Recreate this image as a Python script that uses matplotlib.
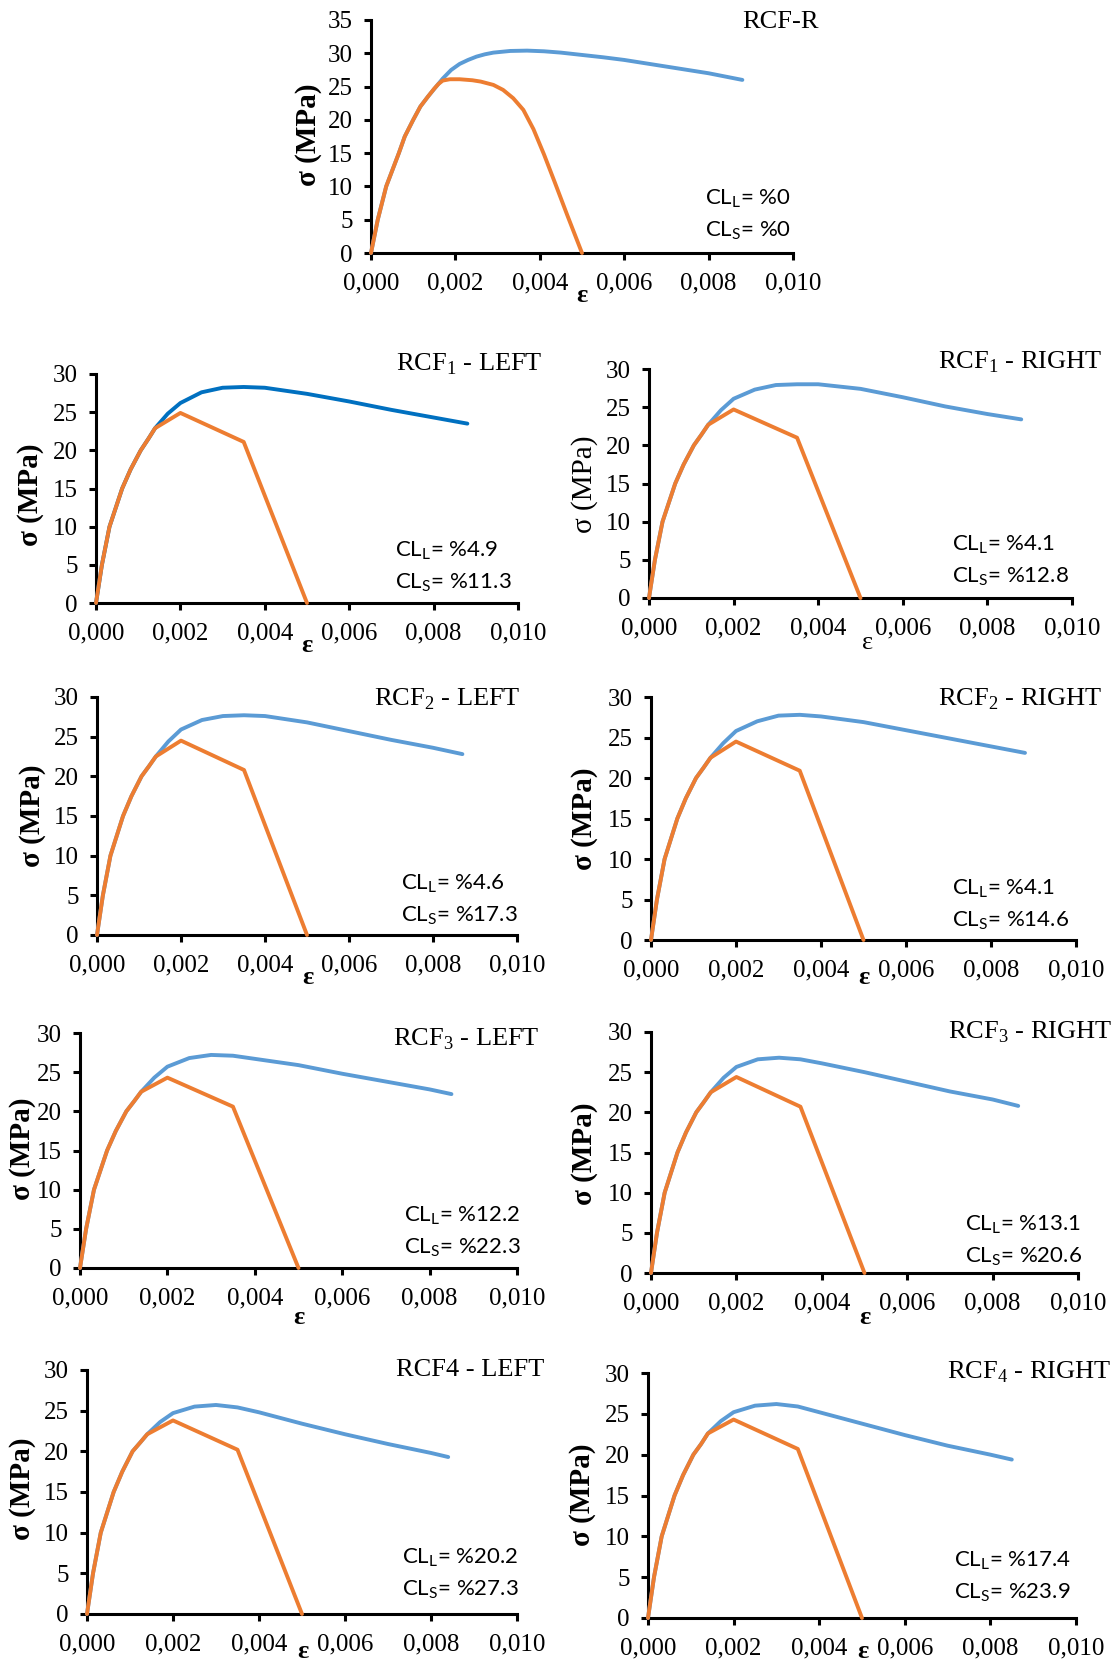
# -------------------- IMPORT LIBRARIES --------------------
import matplotlib
matplotlib.use("Agg")
import matplotlib.pyplot as plt
from matplotlib.ticker import FuncFormatter, MultipleLocator

# -------------------- DATA --------------------
# reference specimen RCF-R
eps_r_blue = [0, 0.00016, 0.00036, 0.00066, 0.0008, 0.001, 0.00117, 0.00135, 0.0017,
              0.0019, 0.0021, 0.0023, 0.0025, 0.0027, 0.0029, 0.0033, 0.0037, 0.0041,
              0.0045, 0.005, 0.0055, 0.006, 0.0065, 0.007, 0.0075, 0.008, 0.0088]
sig_r_blue = [0, 5, 10, 15, 17.5, 20, 22, 23.5, 26.2, 27.5, 28.4, 29.0, 29.5, 29.85, 30.1,
              30.35, 30.4, 30.3, 30.1, 29.75, 29.4, 29.0, 28.5, 28.0, 27.5, 27.0, 26.0]
eps_r_orange = [0, 0.00016, 0.00036, 0.00066, 0.0008, 0.001, 0.00117, 0.00135, 0.0015,
                0.0016, 0.0017, 0.00187, 0.0021, 0.0024, 0.0026, 0.0029, 0.00313, 0.00337,
                0.00361, 0.00385, 0.0041, 0.00435, 0.00465, 0.005]
sig_r_orange = [0, 5, 10, 15, 17.5, 20, 22, 23.5, 24.7, 25.4, 25.9, 26.1, 26.1, 25.95,
                25.75, 25.25, 24.5, 23.25, 21.5, 18.6, 14.8, 10.7, 5.7, 0]

# strain points shared by the damaged specimens
eps_blue_base = [0, 0.00014, 0.00032, 0.00062, 0.00082, 0.00106, 0.00124, 0.0014, 0.0017,
                 0.002, 0.0025, 0.003, 0.0035, 0.004, 0.005, 0.006, 0.007, 0.008]
eps_orange = [0, 0.00014, 0.00032, 0.00062, 0.00082, 0.00106, 0.00124, 0.0014, 0.002,
              0.0035, 0.005]

eps_end = {"1L": 0.0088, "1R": 0.0088, "2L": 0.0087, "2R": 0.0088,
           "3L": 0.0085, "3R": 0.0086, "4L": 0.0084, "4R": 0.0085}

sig_blue_1L = [0, 5, 10, 15, 17.5, 20, 21.5, 22.9, 24.8, 26.2, 27.6, 28.2, 28.3, 28.2, 27.4, 26.4, 25.3, 24.3, 23.5]
sig_blue_1R = [0, 5, 10, 15, 17.5, 20, 21.4, 22.7, 24.6, 26.1, 27.3, 27.9, 28.0, 28.0, 27.4, 26.3, 25.1, 24.1, 23.4]
sig_blue_2L = [0, 5, 10, 15, 17.5, 20, 21.3, 22.5, 24.4, 25.9, 27.1, 27.6, 27.7, 27.6, 26.8, 25.7, 24.6, 23.6, 22.8]
sig_blue_2R = [0, 5, 10, 15, 17.5, 20, 21.3, 22.5, 24.3, 25.8, 27.0, 27.7, 27.8, 27.6, 26.9, 25.9, 24.9, 23.9, 23.1]
sig_blue_3L = [0, 5, 10, 15, 17.5, 20, 21.3, 22.5, 24.3, 25.7, 26.8, 27.2, 27.1, 26.7, 25.9, 24.8, 23.8, 22.8, 22.2]
sig_blue_3R = [0, 5, 10, 15, 17.5, 20, 21.3, 22.5, 24.3, 25.65, 26.6, 26.8, 26.6, 26.1, 25.0, 23.8, 22.6, 21.6, 20.8]
sig_blue_4L = [0, 5, 10, 15, 17.5, 20, 21.1, 22.1, 23.6, 24.7, 25.5, 25.7, 25.4, 24.8, 23.4, 22.1, 20.9, 19.8, 19.3]
sig_blue_4R = [0, 5, 10, 15, 17.5, 20, 21.3, 22.6, 24.1, 25.2, 26.0, 26.2, 25.9, 25.2, 23.8, 22.4, 21.1, 20.0, 19.4]

sig_orange_1L = [0, 5, 10, 15, 17.5, 20, 21.5, 22.9, 24.9, 21.1, 0]
sig_orange_1R = [0, 5, 10, 15, 17.5, 20, 21.4, 22.7, 24.7, 21.0, 0]
sig_orange_2L = [0, 5, 10, 15, 17.5, 20, 21.3, 22.5, 24.5, 20.8, 0]
sig_orange_2R = [0, 5, 10, 15, 17.5, 20, 21.3, 22.5, 24.5, 20.9, 0]
sig_orange_3L = [0, 5, 10, 15, 17.5, 20, 21.3, 22.5, 24.3, 20.6, 0]
sig_orange_3R = [0, 5, 10, 15, 17.5, 20, 21.3, 22.5, 24.4, 20.7, 0]
sig_orange_4L = [0, 5, 10, 15, 17.5, 20, 21.1, 22.1, 23.8, 20.2, 0]
sig_orange_4R = [0, 5, 10, 15, 17.5, 20, 21.3, 22.6, 24.3, 20.7, 0]

titles = {"R": "RCF-R",
          "1L": r"RCF$_\mathregular{1}$ - LEFT", "1R": r"RCF$_\mathregular{1}$ - RIGHT",
          "2L": r"RCF$_\mathregular{2}$ - LEFT", "2R": r"RCF$_\mathregular{2}$ - RIGHT",
          "3L": r"RCF$_\mathregular{3}$ - LEFT", "3R": r"RCF$_\mathregular{3}$ - RIGHT",
          "4L": "RCF4 - LEFT", "4R": r"RCF$_\mathregular{4}$ - RIGHT"}
cl_long = {"R": "%0", "1L": "%4.9", "1R": "%4.1", "2L": "%4.6", "2R": "%4.1",
           "3L": "%12.2", "3R": "%13.1", "4L": "%20.2", "4R": "%17.4"}
cl_short = {"R": "%0", "1L": "%11.3", "1R": "%12.8", "2L": "%17.3", "2R": "%14.6",
            "3L": "%22.3", "3R": "%20.6", "4L": "%27.3", "4R": "%23.9"}

# -------------------- LAYOUT (pixels in the 1116x1668 picture) --------------------
W, H = 1116, 1668
# x0, x1, y_zero, y_top
boxes = {"R": (371, 793, 253, 20),
         "1L": (96, 518, 603, 374), "1R": (649, 1072, 598, 369),
         "2L": (97, 517, 935, 697), "2R": (651, 1076, 940, 697),
         "3L": (80, 517, 1268, 1033), "3R": (651, 1078, 1273, 1032),
         "4L": (87, 517, 1614, 1370), "4R": (648, 1076, 1618, 1373)}
title_pos = {"R": (819, 22), "1L": (543, 364), "1R": (1102, 362), "2L": (521, 699),
             "2R": (1102, 699), "3L": (540, 1039), "3R": (1112, 1032),
             "4L": (544, 1370), "4R": (1111, 1372)}
cl_pos = {"R": (705, 199), "1L": (395, 551), "1R": (952, 545), "2L": (401, 884),
          "2R": (952, 889), "3L": (404, 1216), "3R": (965, 1225), "4L": (402, 1558),
          "4R": (954, 1561)}
ylab_pos = {"R": (309, 135), "1L": (30, 495), "1R": (585, 484), "2L": (32, 816),
            "2R": (585, 819), "3L": (23, 1149), "3R": (585, 1154), "4L": (23, 1489),
            "4R": (583, 1495)}
eps_pos = {"R": (582, 295), "1L": (307, 645), "1R": (868, 643), "2L": (308, 978),
           "2R": (864, 978), "3L": (299, 1318), "3R": (865, 1318), "4L": (303, 1652),
           "4R": (863, 1652)}

BLUE = "#5B9BD5"
DARK_BLUE = "#0070C0"
ORANGE = "#ED7D31"
SERIF = "Liberation Serif"
SANS = "Lato"


def px(x, y):
    return x / W, 1 - y / H


def comma_fmt(v, pos):
    return f"{v:.3f}".replace(".", ",")


# -------------------- FIGURE --------------------
fig = plt.figure(figsize=(W / 100, H / 100), dpi=100)

panels = {
    "R": (eps_r_blue, sig_r_blue, eps_r_orange, sig_r_orange),
    "1L": (eps_blue_base + [eps_end["1L"]], sig_blue_1L, eps_orange, sig_orange_1L),
    "1R": (eps_blue_base + [eps_end["1R"]], sig_blue_1R, eps_orange, sig_orange_1R),
    "2L": (eps_blue_base + [eps_end["2L"]], sig_blue_2L, eps_orange, sig_orange_2L),
    "2R": (eps_blue_base + [eps_end["2R"]], sig_blue_2R, eps_orange, sig_orange_2R),
    "3L": (eps_blue_base + [eps_end["3L"]], sig_blue_3L, eps_orange, sig_orange_3L),
    "3R": (eps_blue_base + [eps_end["3R"]], sig_blue_3R, eps_orange, sig_orange_3R),
    "4L": (eps_blue_base + [eps_end["4L"]], sig_blue_4L, eps_orange, sig_orange_4L),
    "4R": (eps_blue_base + [eps_end["4R"]], sig_blue_4R, eps_orange, sig_orange_4R),
}

for key, (eb, sb, eo, so) in panels.items():
    x0, x1, y0, yt = boxes[key]
    ax = fig.add_axes([x0 / W, 1 - y0 / H, (x1 - x0) / W, (y0 - yt) / H])
    ymax = 35 if key == "R" else 30

    blue = DARK_BLUE if key == "1L" else BLUE
    ax.plot(eb, sb, color=blue, lw=2.8, clip_on=False, zorder=3,
            solid_joinstyle="round", solid_capstyle="round")
    ax.plot(eo, so, color=ORANGE, lw=2.8, clip_on=False, zorder=4,
            solid_joinstyle="round", solid_capstyle="round")

    ax.set_xlim(0, 0.010)
    ax.set_ylim(0, ymax)
    ax.xaxis.set_major_locator(MultipleLocator(0.002))
    ax.yaxis.set_major_locator(MultipleLocator(5))
    ax.xaxis.set_major_formatter(FuncFormatter(comma_fmt))
    for s in ["top", "right"]:
        ax.spines[s].set_visible(False)
    for s in ["left", "bottom"]:
        ax.spines[s].set_linewidth(2.2)
        ax.spines[s].set_color("black")
    ax.tick_params(direction="out", length=5, width=2.2)
    ax.tick_params(axis="x", pad=9)
    ax.tick_params(axis="y", pad=8)
    for lab in ax.get_xticklabels() + ax.get_yticklabels():
        lab.set_fontfamily(SERIF)
        lab.set_fontsize(18)

    # panel title
    tx, ty = title_pos[key]
    fig.text(*px(tx, ty), titles[key], ha="right", va="center",
             fontfamily=SERIF, fontsize=19)

    # damage ratios
    cx, cy = cl_pos[key]
    fig.text(*px(cx, cy), r"CL$_\mathregular{L}$= " + cl_long[key],
             ha="left", va="center", fontfamily=SANS, fontsize=16)
    fig.text(*px(cx, cy + 32), r"CL$_\mathregular{S}$= " + cl_short[key],
             ha="left", va="center", fontfamily=SANS, fontsize=16)

    # axis labels
    weight = "normal" if key == "1R" else "bold"
    lx, ly = ylab_pos[key]
    fig.text(*px(lx, ly), "σ (MPa)", rotation=90, ha="center", va="center",
             fontfamily=SERIF, fontsize=21, fontweight=weight)
    ex, ey = eps_pos[key]
    fig.text(*px(ex, ey), "ε", ha="center", va="center",
             fontfamily=SERIF, fontsize=19, fontweight=weight)

fig.savefig("out.png", dpi=100, facecolor="white")
